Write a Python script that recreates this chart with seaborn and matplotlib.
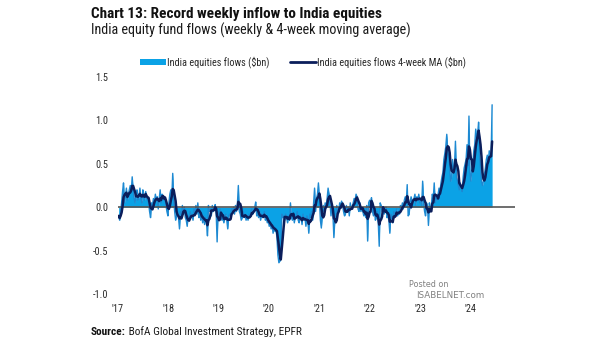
import numpy as np
import pandas as pd
import matplotlib
matplotlib.use("Agg")
import matplotlib.pyplot as plt
from matplotlib.patches import Patch
from matplotlib.lines import Line2D
import seaborn as sns

# Weekly India equity fund flows, $bn (one list per calendar year)
flows_2017 = [-0.10, -0.15, -0.05, 0.05, 0.18, 0.28, 0.05, 0.12, 0.22, 0.08,
              0.15, 0.20, 0.25, 0.18, 0.35, 0.20, 0.10, 0.05, 0.15, 0.20,
              0.08, 0.12, 0.22, 0.10, 0.05, 0.20, 0.15, 0.08, 0.18, 0.10,
              0.10, 0.05, -0.05, -0.12, 0.05, 0.02, 0.10, 0.05, 0.15, 0.08,
              0.12, -0.02, 0.10, 0.20, 0.05, 0.15, 0.12, 0.08, 0.10, 0.02,
              -0.05, -0.10]
flows_2018 = [0.05, 0.15, 0.20, 0.10, 0.39, 0.10, -0.05, -0.15, -0.10, -0.05,
              -0.12, -0.25, -0.05, -0.10, 0.02, -0.08, 0.00, -0.12, -0.15, -0.22,
              -0.10, -0.15, -0.05, -0.12, -0.08, -0.15, -0.02, -0.10, 0.02, -0.08,
              0.05, -0.12, -0.05, -0.15, -0.08, -0.18, -0.10, -0.20, -0.12, -0.18,
              -0.33, 0.02, -0.05, -0.02, -0.10, 0.02, -0.05, 0.00, 0.03, -0.05,
              -0.40, -0.05]
flows_2019 = [-0.10, -0.02, -0.08, -0.15, -0.12, -0.18, -0.10, -0.08, -0.15, -0.25,
              -0.10, -0.08, -0.12, -0.02, -0.05, 0.00, -0.08, 0.02, -0.05, 0.03,
              0.25, -0.05, -0.08, -0.15, -0.12, -0.05, -0.12, -0.08, -0.15, -0.10,
              -0.15, -0.08, -0.12, -0.05, -0.02, -0.08, -0.05, 0.00, 0.06, -0.10,
              -0.08, -0.12, -0.05, -0.15, -0.08, -0.12, -0.10, -0.05, -0.15, -0.12,
              -0.18, -0.15]
flows_2020 = [-0.22, -0.18, -0.25, -0.20, -0.30, -0.22, -0.28, -0.25, -0.35, -0.55,
              -0.64, -0.62, -0.60, -0.08, -0.12, -0.10, -0.15, -0.08, -0.12, -0.18,
              -0.10, -0.15, 0.05, -0.12, -0.15, -0.08, -0.18, -0.10, -0.12, -0.05,
              -0.15, -0.18, -0.10, -0.12, -0.20, -0.08, -0.15, -0.12, -0.22, -0.10,
              -0.15, -0.30, -0.08, -0.12, -0.05, -0.15, 0.05, 0.22, -0.05, 0.10,
              0.15, 0.28]
flows_2021 = [0.10, -0.15, -0.24, -0.10, 0.02, -0.05, 0.05, 0.00, 0.10, 0.22,
              0.15, 0.05, -0.10, 0.02, -0.08, -0.35, -0.15, -0.12, 0.02, -0.05,
              -0.05, 0.05, 0.02, 0.07, 0.03, -0.05, -0.10, -0.08, 0.02, -0.05,
              0.00, -0.10, 0.05, -0.02, 0.00, 0.05, 0.10, 0.08, 0.15, 0.12,
              -0.02, -0.05, 0.05, -0.05, 0.00, -0.05, -0.10, -0.05, -0.12, 0.02,
              -0.39, 0.05]
flows_2022 = [0.08, 0.05, 0.11, -0.05, -0.10, -0.02, -0.15, -0.12, -0.05, -0.18,
              -0.45, 0.05, 0.02, -0.05, -0.02, -0.08, -0.05, 0.00, -0.12, -0.10,
              -0.15, -0.30, -0.08, -0.12, -0.18, -0.05, -0.10, -0.08, -0.02, -0.10,
              -0.05, -0.08, 0.02, -0.02, 0.05, -0.02, 0.08, 0.12, 0.05, 0.26,
              -0.10, -0.08, 0.05, 0.12, 0.08, 0.05, 0.10, 0.15, 0.02, 0.12,
              0.08, 0.15]
flows_2023 = [0.05, 0.10, 0.02, 0.30, 0.05, -0.05, -0.10, 0.05, 0.02, -0.21,
              0.05, -0.05, 0.02, 0.15, 0.10, 0.28, 0.05, 0.12, 0.08, 0.15,
              0.22, 0.18, 0.28, 0.35, 0.40, 0.55, 0.62, 0.70, 0.84, 0.65,
              0.58, 0.45, 0.30, 0.35, 0.55, 0.40, 0.48, 0.76, 0.35, 0.30,
              0.25, 0.20, 0.28, 0.22, 0.18, 0.35, 0.45, 0.50, 0.55, 0.72,
              0.48, 1.05]
flows_2024 = [0.40, 0.30, 0.45, 0.50, 0.65, 0.72, 0.90, 0.80, 0.85, 0.98,
              0.60, 0.45, 0.30, 0.25, 0.30, 0.38, 0.45, 0.55, 0.60, 0.50,
              0.65, 0.58, 0.62, 1.18]

year_ticks = ["'17", "'18", "'19", "'20", "'21", "'22", "'23", "'24"]
y_ticks = [-1.0, -0.5, 0.0, 0.5, 1.0, 1.5]

flows = (flows_2017 + flows_2018 + flows_2019 + flows_2020 +
         flows_2021 + flows_2022 + flows_2023 + flows_2024)
df = pd.DataFrame({
    "week": pd.date_range("2017-01-06", periods=len(flows), freq="W-FRI"),
    "flows": flows,
})
df["ma4"] = df["flows"].rolling(4, min_periods=1).mean()

FILL = "#0BA2E6"
EDGE = "#1D89D2"
NAVY = "#0B1E5B"
TXT = "#2b2b2b"

sns.set_theme(style="white")
narrow = ["Roboto Condensed", "Liberation Sans Narrow", "DejaVu Sans"]
plt.rcParams["font.family"] = narrow

fig = plt.figure(figsize=(6.05, 3.41), dpi=100)
ax = fig.add_axes([118 / 605, 1 - 294 / 341, 397 / 605, 217 / 341])

ax.fill_between(df["week"], 0, df["flows"], color=FILL, linewidth=0, zorder=2)
ax.plot(df["week"], df["flows"], color=EDGE, linewidth=1.0, zorder=3)
ax.axhline(0, color="#555555", linewidth=1.2, zorder=4)
sns.lineplot(data=df, x="week", y="ma4", color=NAVY, linewidth=1.8,
             ax=ax, zorder=5)

ax.set_xlim(pd.Timestamp("2017-01-01"), pd.Timestamp("2024-11-20"))
ax.set_ylim(-1.0, 1.5)
ax.set_yticks(y_ticks)
ax.set_yticklabels([f"{v:.1f}" for v in y_ticks])
ax.set_xticks([pd.Timestamp(f"{2017 + i}-01-01") for i in range(len(year_ticks))])
ax.set_xticklabels(year_ticks)
ax.set_xlabel("")
ax.set_ylabel("")
ax.tick_params(axis="both", length=0, labelsize=7.4, labelcolor=TXT)
ax.tick_params(axis="y", pad=7)
ax.tick_params(axis="x", pad=7)
for s in ax.spines.values():
    s.set_visible(False)
ax.grid(False)

handles = [Patch(facecolor=FILL, edgecolor="none"),
           Line2D([0], [0], color=NAVY, linewidth=2.0)]
labels = ["India equities flows ($bn)", "India equities flows 4-week MA ($bn)"]
fig.legend(handles, labels, ncol=2, loc="center",
           bbox_to_anchor=(303 / 605, 1 - 62 / 341), frameon=False,
           fontsize=7.4, handlelength=2.5, handleheight=0.5,
           handletextpad=0.1, columnspacing=2.0, labelcolor=TXT)

fig.text(91 / 605, 1 - 18 / 341, "Chart 13: Record weekly inflow to India equities",
         fontsize=11.0, fontweight="bold", color="#111111", va="baseline")
fig.text(91 / 605, 1 - 35 / 341,
         "India equity fund flows (weekly & 4-week moving average)",
         fontsize=10.2, color="#1a1a1a", va="baseline")
src = fig.text(91 / 605, 1 - 335 / 341, "Source:", fontsize=8.2,
               fontweight="bold", color="#111111", va="baseline")
fig.canvas.draw()
ax.annotate(" BofA Global Investment Strategy, EPFR", xy=(1, 0),
            xycoords=src, va="bottom", ha="left", fontsize=8.2,
            color="#1a1a1a", annotation_clip=False)

# small gray credit line above the last two year labels
fig.text(409 / 605, 1 - 287 / 341, "Posted on", fontsize=5.8,
         color="#808080", family="DejaVu Sans", va="baseline")
fig.text(416 / 605, 1 - 298 / 341, "ISABELNET.com", fontsize=6.3,
         color="#808080", family="DejaVu Sans", va="baseline")

fig.savefig("out.png", dpi=100)
